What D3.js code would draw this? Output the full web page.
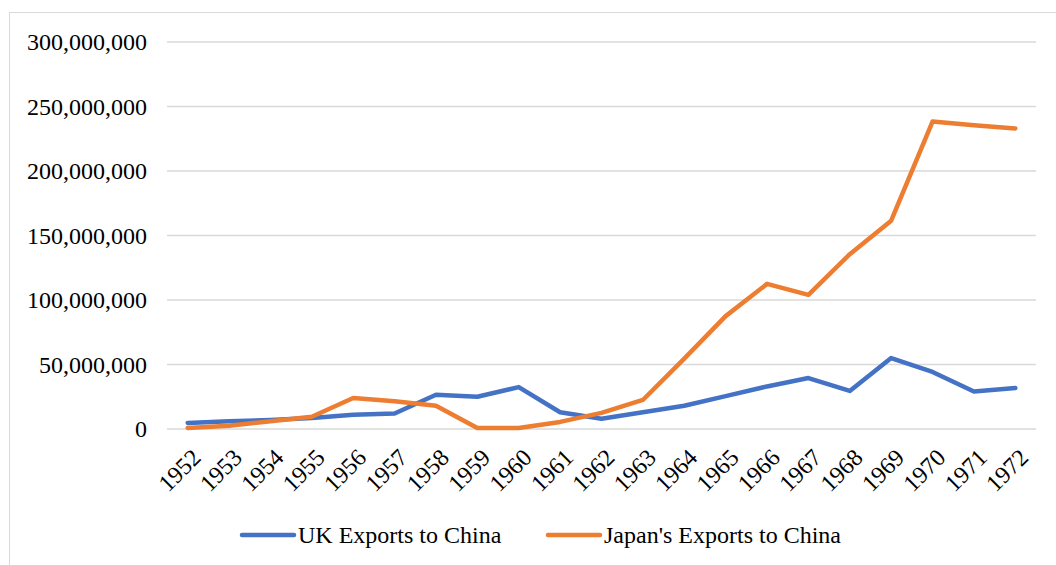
<!DOCTYPE html>
<html>
<head>
<meta charset="utf-8">
<script src="https://cdn.jsdelivr.net/npm/d3@7"></script>
<style>
  body { margin: 0; background: #fff; }
  svg text { font-family: "Liberation Serif", "Times New Roman", serif; fill: #000; }
</style>
</head>
<body>
<div id="chart"></div>
<script>
// Exports to China, 1952-1972

const years = ["1952", "1953", "1954", "1955", "1956", "1957", "1958", "1959", "1960", "1961",
    "1962", "1963", "1964", "1965", "1966", "1967", "1968", "1969", "1970", "1971", "1972"];

const ukExports = [4.7e6, 6e6, 7e6, 8.5e6, 11e6, 12e6, 26.5e6, 25e6, 32.5e6, 13e6,
    8e6, 13e6, 18e6, 25.5e6, 33e6, 39.5e6, 29.5e6, 55e6, 44.2e6, 29e6, 31.8e6];

const japanExports = [0.8e6, 2.5e6, 6e6, 9.5e6, 24e6, 21.5e6, 18e6, 0.8e6, 0.8e6, 5.5e6,
    12.5e6, 22.5e6, 54.5e6, 87.5e6, 112.5e6, 104e6, 135.5e6, 161.5e6, 238.3e6, 235.5e6, 233e6];

const yTicks = [0, 50e6, 100e6, 150e6, 200e6, 250e6, 300e6];

const series = [
    { name: "UK Exports to China", values: ukExports, color: "#4472C4" },
    { name: "Japan's Exports to China", values: japanExports, color: "#ED7D31" },
];

const WIDTH = 1056;
const HEIGHT = 565;
const FONT_SIZE = 24;

const svg = d3.select("#chart").append("svg")
    .attr("width", WIDTH)
    .attr("height", HEIGHT);

// outer chart border (only top and left fall inside the picture)
svg.append("rect")
    .attr("x", 9.5)
    .attr("y", 12.5)
    .attr("width", 1200)
    .attr("height", 700)
    .attr("fill", "none")
    .attr("stroke", "#d9d9d9");

const x = d3.scalePoint()
    .domain(years)
    .range([167, 1036])
    .padding(0.5);

const y = d3.scaleLinear()
    .domain([0, 300e6])
    .range([429, 42]);

// gridlines
svg.append("g")
    .selectAll("line")
    .data(yTicks)
    .join("line")
    .attr("x1", 167)
    .attr("x2", 1036)
    .attr("y1", d => y(d))
    .attr("y2", d => y(d))
    .attr("stroke", "#d9d9d9")
    .attr("stroke-width", 1.3);

// y axis labels
const fmt = d3.format(",");
const yAxis = d3.axisLeft(y).tickValues(yTicks).tickFormat(fmt).tickSize(0).tickPadding(20);
const yG = svg.append("g")
    .attr("transform", "translate(167,0)")
    .call(yAxis);
yG.select(".domain").remove();
yG.selectAll("text")
    .attr("font-size", FONT_SIZE)
    .attr("font-family", "Liberation Serif, Times New Roman, serif");

// x axis labels, rotated
const xAxis = d3.axisBottom(x).tickSize(0).tickPadding(0);
const xG = svg.append("g")
    .attr("transform", "translate(0,429)")
    .call(xAxis);
xG.select(".domain").remove();
xG.selectAll("text")
    .attr("font-size", FONT_SIZE)
    .attr("font-family", "Liberation Serif, Times New Roman, serif")
    .attr("text-anchor", "end")
    .attr("dy", "0")
    .attr("y", 0)
    .attr("transform", "translate(14,30) rotate(-45)");

// series lines
const line = d3.line()
    .x((d, i) => x(years[i]))
    .y(d => y(d));

svg.append("g")
    .selectAll("path")
    .data(series)
    .join("path")
    .attr("d", d => line(d.values))
    .attr("fill", "none")
    .attr("stroke", d => d.color)
    .attr("stroke-width", 4.5)
    .attr("stroke-linejoin", "round")
    .attr("stroke-linecap", "round");

// legend
const legendX = [242, 548];
const legend = svg.append("g")
    .selectAll("g")
    .data(series)
    .join("g")
    .attr("transform", (d, i) => `translate(${legendX[i]},535)`);

legend.append("line")
    .attr("x1", 0)
    .attr("x2", 52)
    .attr("stroke", d => d.color)
    .attr("stroke-width", 4.5)
    .attr("stroke-linecap", "round");

legend.append("text")
    .attr("x", 56)
    .attr("dy", "0.34em")
    .attr("font-size", FONT_SIZE)
    .text(d => d.name);
</script>
</body>
</html>
